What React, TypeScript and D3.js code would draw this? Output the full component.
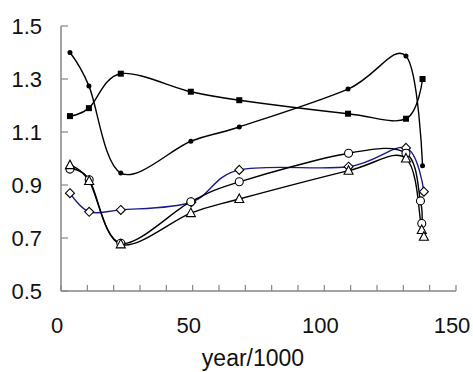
import React, { useRef, useEffect } from 'react';
import * as d3 from 'd3';

// values
const dotYears = [3.4, 10.6, 22.7, 49.3, 67.7, 109, 131, 137.3];
const dotValues = [1.4, 1.274, 0.945, 1.065, 1.119, 1.262, 1.387, 0.973];

const squareYears = [3.4, 10.6, 22.7, 49.3, 67.7, 109, 131, 137.3];
const squareValues = [1.16, 1.19, 1.32, 1.252, 1.22, 1.169, 1.15, 1.3];

const circleYears = [3.4, 10.7, 22.7, 49.3, 67.7, 109.2, 131, 136.5, 137];
const circleValues = [0.96, 0.92, 0.68, 0.837, 0.912, 1.02, 1.02, 0.84, 0.755];

const triangleYears = [3.4, 10.7, 22.7, 49.3, 67.7, 109.2, 131, 137, 137.8];
const triangleValues = [0.975, 0.915, 0.676, 0.794, 0.847, 0.954, 1.0, 0.73, 0.705];

const diamondYears = [3.4, 10.7, 22.7, 49.5, 67.7, 109.2, 131, 137.8];
const diamondValues = [0.869, 0.799, 0.806, 0.835, 0.957, 0.969, 1.04, 0.875];

const xTicks = [0, 50, 100, 150];
const xMinorTicks = d3.range(0, 151, 10);
const yTicks = [0.5, 0.7, 0.9, 1.1, 1.3, 1.5];

type Marker = 'dot' | 'square' | 'circle' | 'triangle' | 'diamond';

const series: { marker: Marker; color: string; years: number[]; values: number[] }[] = [
  { marker: 'dot', color: '#000', years: dotYears, values: dotValues },
  { marker: 'square', color: '#000', years: squareYears, values: squareValues },
  { marker: 'diamond', color: '#1a1a8c', years: diamondYears, values: diamondValues },
  { marker: 'circle', color: '#000', years: circleYears, values: circleValues },
  { marker: 'triangle', color: '#000', years: triangleYears, values: triangleValues },
];

const App: React.FC = () => {
  const svgRef = useRef<SVGSVGElement | null>(null);

  useEffect(() => {
    if (!svgRef.current) return;
    const svg = d3.select(svgRef.current);
    svg.selectAll('*').remove();

    const width = 473;
    const height = 372;
    const margin = { top: 26, right: 17, bottom: 81, left: 61 };
    const innerWidth = width - margin.left - margin.right;
    const innerHeight = height - margin.top - margin.bottom;
    const axisColor = '#868686';
    const font = '"Liberation Sans", Arial, sans-serif';

    const g = svg.append('g').attr('transform', `translate(${margin.left}, ${margin.top})`);

    const x = d3.scaleLinear().domain([0, 150]).range([0, innerWidth]);
    const y = d3.scaleLinear().domain([0.5, 1.5]).range([innerHeight, 0]);

    // axes
    g.append('line').attr('x1', 0).attr('x2', 0).attr('y1', 0).attr('y2', innerHeight).attr('stroke', axisColor).attr('stroke-width', 1.5);
    g.append('line').attr('x1', 0).attr('x2', innerWidth).attr('y1', innerHeight).attr('y2', innerHeight).attr('stroke', axisColor).attr('stroke-width', 1.5);

    g.selectAll('.xtick').data(xMinorTicks).enter().append('line')
      .attr('x1', d => x(d)).attr('x2', d => x(d))
      .attr('y1', innerHeight).attr('y2', innerHeight - 6)
      .attr('stroke', axisColor).attr('stroke-width', 1.2);

    g.selectAll('.ytick').data(yTicks).enter().append('line')
      .attr('x1', 0).attr('x2', 7)
      .attr('y1', d => y(d)).attr('y2', d => y(d))
      .attr('stroke', axisColor).attr('stroke-width', 1.2);

    g.selectAll('.xlabel').data(xTicks).enter().append('text')
      .attr('x', d => x(d) - 4).attr('y', innerHeight + 42)
      .attr('text-anchor', 'middle')
      .attr('font-family', font).attr('font-size', 22).attr('fill', '#111')
      .text(d => String(d));

    g.selectAll('.ylabel').data(yTicks).enter().append('text')
      .attr('x', -19).attr('y', d => y(d) + 8)
      .attr('text-anchor', 'end')
      .attr('font-family', font).attr('font-size', 22).attr('fill', '#111')
      .text(d => d.toFixed(1));

    svg.append('text')
      .attr('x', 253).attr('y', 366)
      .attr('text-anchor', 'middle')
      .attr('font-family', font).attr('font-size', 23).attr('fill', '#111')
      .text('year/1000');

    const line = d3.line<[number, number]>()
      .x(d => x(d[0]))
      .y(d => y(d[1]))
      .curve(d3.curveCatmullRom.alpha(0));

    series.forEach(s => {
      const pts = s.years.map((yr, i) => [yr, s.values[i]] as [number, number]);
      g.append('path')
        .datum(pts)
        .attr('d', line)
        .attr('fill', 'none')
        .attr('stroke', s.color)
        .attr('stroke-width', 1.4);
    });

    series.forEach(s => {
      const pts = s.years.map((yr, i) => [yr, s.values[i]] as [number, number]);
      const mg = g.append('g');
      pts.forEach(([yr, v]) => {
        const cx = x(yr);
        const cy = y(v);
        if (s.marker === 'dot') {
          mg.append('circle').attr('cx', cx).attr('cy', cy).attr('r', 2.5).attr('fill', '#000');
        } else if (s.marker === 'square') {
          mg.append('rect').attr('x', cx - 3).attr('y', cy - 3).attr('width', 6).attr('height', 6).attr('fill', '#000');
        } else if (s.marker === 'circle') {
          mg.append('circle').attr('cx', cx).attr('cy', cy).attr('r', 4).attr('fill', '#fff').attr('stroke', '#000').attr('stroke-width', 1.1);
        } else if (s.marker === 'triangle') {
          mg.append('path').attr('d', `M${cx},${cy - 5}L${cx + 4.5},${cy + 3.5}L${cx - 4.5},${cy + 3.5}Z`)
            .attr('fill', '#fff').attr('stroke', '#000').attr('stroke-width', 1.1);
        } else {
          mg.append('path').attr('d', `M${cx},${cy - 4.5}L${cx + 4.5},${cy}L${cx},${cy + 4.5}L${cx - 4.5},${cy}Z`)
            .attr('fill', '#fff').attr('stroke', '#000').attr('stroke-width', 1.1);
        }
      });
    });
  }, []);

  return (
    <svg
      ref={svgRef}
      width={473}
      height={372}
      style={{ position: 'absolute', left: 0, top: 0, background: '#fff' }}
    />
  );
};

export default App;
